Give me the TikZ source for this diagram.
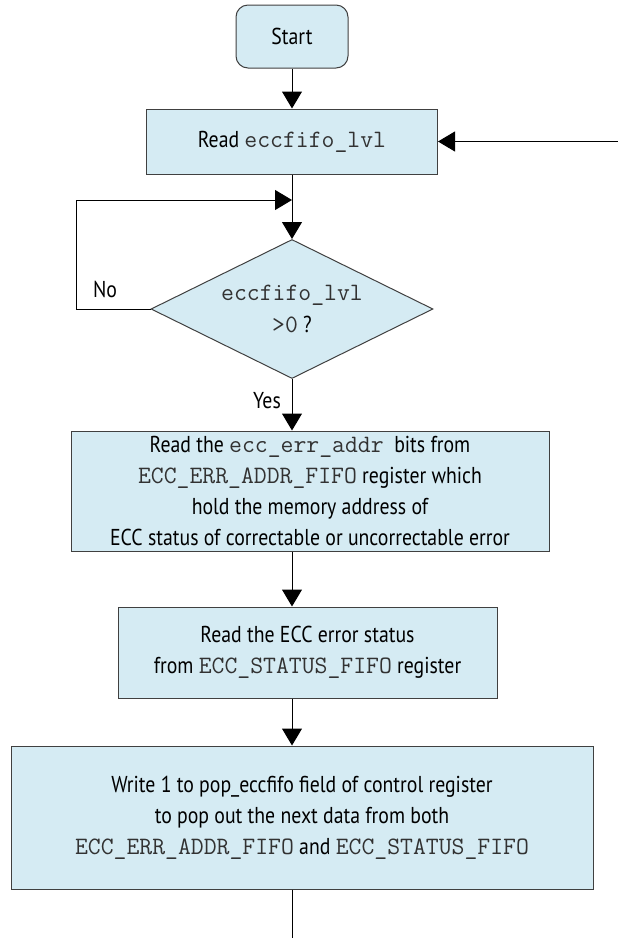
\documentclass[tikz,border=0pt]{standalone}
\usepackage{fontspec}
\setmainfont{PT Sans}[FakeStretch=0.86]
\usetikzlibrary{arrows.meta, shapes.geometric}

\definecolor{boxfill}{RGB}{213,235,243}
\definecolor{boxline}{RGB}{64,64,64}
\definecolor{codegray}{RGB}{50,50,50}
\newcommand{\reg}[1]{{\ttfamily\color{codegray}\fontsize{25}{31}\selectfont #1}}

\begin{document}
\begin{tikzpicture}[
  x=1pt, y=-1pt,
  box/.style={draw=boxline, fill=boxfill, line width=1pt, align=center, inner sep=0pt, font=\fontsize{23}{31}\selectfont},
  decision/.style={diamond, aspect=2.03, draw=boxline, fill=boxfill, line width=1pt, align=center, inner sep=0pt, font=\fontsize{23}{32}\selectfont},
  arr/.style={-{Triangle[length=17pt, width=20pt]}, line width=1pt},
  lbl/.style={font=\fontsize{23}{31}\selectfont}
]
\useasboundingbox (0,0) rectangle (618,938);

\node[box, rounded corners=12pt, minimum width=112pt, minimum height=63pt] (start) at (292,36.5) {Start};
\node[box, minimum width=291pt, minimum height=65pt] (read) at (292,141.5) {Read \reg{eccfifo\_lvl}};
\node[decision, minimum width=282pt, minimum height=139pt] (check) at (292,309) {\reg{eccfifo\_lvl}\\\reg{>0} ?};
\node[box, minimum width=478pt, minimum height=120pt] (addr) at (310,491) {Read the \reg{ecc\_err\_addr}\ \ bits from\\\reg{ECC\_ERR\_ADDR\_FIFO} register which\\hold the memory address of\\ECC status of correctable or uncorrectable error};
\node[box, minimum width=379pt, minimum height=91pt] (status) at (307.5,652.5) {Read the ECC error status\\from \reg{ECC\_STATUS\_FIFO} register};
\node[box, minimum width=582pt, minimum height=143pt] (pop) at (302,817.5) {Write 1 to pop\_eccfifo field of control register\\to pop out the next data from both\\\reg{ECC\_ERR\_ADDR\_FIFO} and \reg{ECC\_STATUS\_FIFO}};

\node[lbl] (no) at (105,289) {No};
\node[lbl] (yes) at (267,401) {Yes};

\coordinate (loopin) at (292,200);
\coordinate (retn) at (618,141.5);
\coordinate (exit) at (292,938);

\draw[arr] (start) -- (read);
\draw[arr] (read) -- (check);
\draw[arr] (check.west) -- ++(-74,0) |- (loopin);
\draw[arr] (retn) -- (read.east);
\draw[arr] (check.south) -- (check.south |- addr.north);
\draw[arr] (check.south |- addr.south) -- (check.south |- status.north);
\draw[arr] (check.south |- status.south) -- (check.south |- pop.north);
\draw[line width=1pt] (check.south |- pop.south) -- (exit);
\end{tikzpicture}
\end{document}
